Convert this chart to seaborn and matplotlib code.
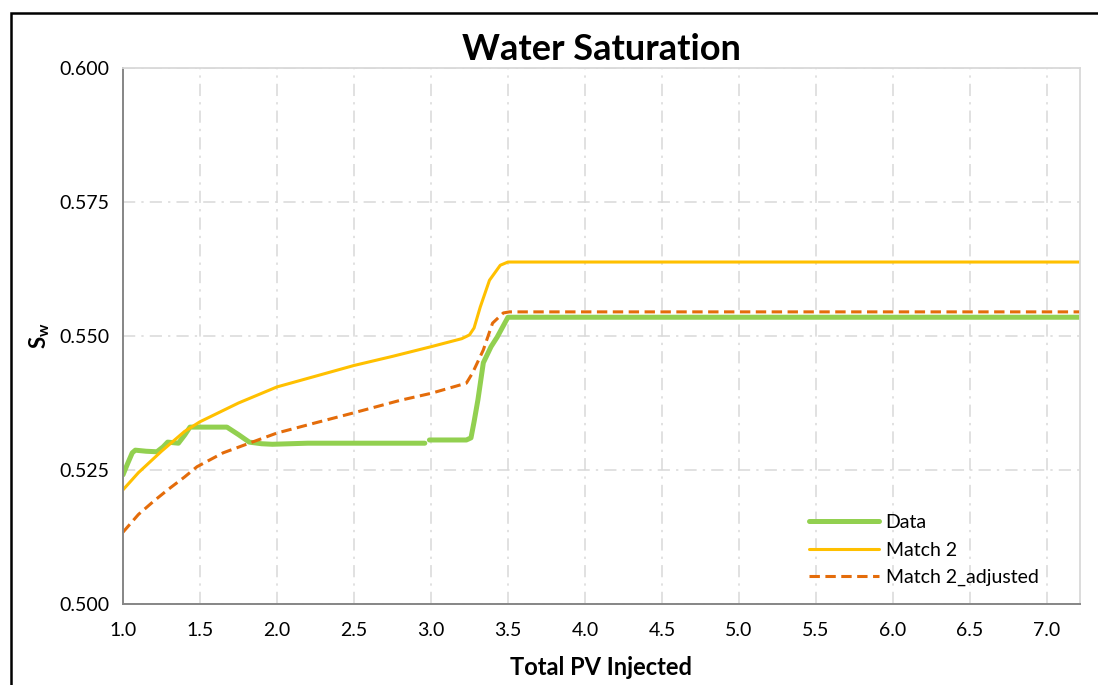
import numpy as np
import pandas as pd
import matplotlib
matplotlib.use("Agg")
import matplotlib.pyplot as plt
from matplotlib.patches import Rectangle
import seaborn as sns

# ---- data ----
data_x1 = [1.00, 1.03, 1.06, 1.08, 1.15, 1.22, 1.26, 1.29, 1.36, 1.40, 1.435, 1.55, 1.675, 1.75, 1.82, 1.90, 1.97, 2.20, 2.50, 2.80, 2.96]
data_y1 = [0.5241, 0.5262, 0.5282, 0.5287, 0.5285, 0.5284, 0.5293, 0.5302, 0.5300, 0.5315, 0.5330, 0.5330, 0.5330, 0.5316, 0.5302, 0.5299, 0.5298, 0.5300, 0.5300, 0.5300, 0.5300]
data_x2 = [2.99, 3.10, 3.23, 3.26, 3.28, 3.305, 3.34, 3.39, 3.43, 3.50, 4.0, 5.0, 6.0, 7.25]
data_y2 = [0.5306, 0.5306, 0.5306, 0.5310, 0.5340, 0.5381, 0.5450, 0.5480, 0.5498, 0.5535, 0.5535, 0.5535, 0.5535, 0.5535]

match_x = [1.00, 1.10, 1.25, 1.40, 1.50, 1.75, 2.00, 2.25, 2.50, 2.75, 3.00, 3.20, 3.25, 3.28, 3.32, 3.38, 3.45, 3.50, 4.0, 5.0, 6.0, 7.25]
match_y = [0.5213, 0.5245, 0.5285, 0.5322, 0.5340, 0.5375, 0.5405, 0.5425, 0.5445, 0.5462, 0.5480, 0.5495, 0.5502, 0.5515, 0.5554, 0.5604, 0.5632, 0.5638, 0.5638, 0.5638, 0.5638, 0.5638]

adj_x = [1.00, 1.10, 1.20, 1.29, 1.40, 1.48, 1.65, 1.82, 2.00, 2.25, 2.49, 2.80, 3.00, 3.23, 3.27, 3.34, 3.40, 3.47, 3.51, 4.0, 5.0, 6.0, 7.25]
adj_y = [0.5134, 0.5167, 0.5192, 0.5213, 0.5237, 0.5256, 0.5282, 0.5300, 0.5319, 0.5338, 0.5356, 0.5380, 0.5393, 0.5412, 0.5431, 0.5474, 0.5524, 0.5543, 0.5545, 0.5545, 0.5545, 0.5545, 0.5545]

x_ticks = [1.0, 1.5, 2.0, 2.5, 3.0, 3.5, 4.0, 4.5, 5.0, 5.5, 6.0, 6.5, 7.0]
y_ticks = [0.500, 0.525, 0.550, 0.575, 0.600]

GREEN = "#92D050"
YELLOW = "#FFC000"
ORANGE = "#E46C0A"

sns.set_theme(style="white")
plt.rcParams["font.family"] = ["Lato", "DejaVu Sans"]
plt.rcParams["text.color"] = "black"
plt.rcParams["axes.labelcolor"] = "black"

fig = plt.figure(figsize=(10.98, 6.85), dpi=100)
ax = fig.add_axes([123/1098, 1 - 604/685, (1080-123)/1098, (604-68)/685])

d1 = pd.DataFrame({"x": data_x1, "y": data_y1})
d2 = pd.DataFrame({"x": data_x2, "y": data_y2})
dm = pd.DataFrame({"x": match_x, "y": match_y})
da = pd.DataFrame({"x": adj_x, "y": adj_y})

sns.lineplot(data=d1, x="x", y="y", ax=ax, color=GREEN, lw=3.6, label="Data",
             solid_capstyle="round", solid_joinstyle="round", sort=False, estimator=None)
sns.lineplot(data=d2, x="x", y="y", ax=ax, color=GREEN, lw=3.6, label="_nolegend_",
             solid_capstyle="round", solid_joinstyle="round", sort=False, estimator=None)
sns.lineplot(data=dm, x="x", y="y", ax=ax, color=YELLOW, lw=2.2, label="Match 2",
             solid_joinstyle="round", sort=False, estimator=None)
sns.lineplot(data=da, x="x", y="y", ax=ax, color=ORANGE, lw=2.2, label="Match 2_adjusted",
             sort=False, estimator=None)
ax.lines[-1].set_linestyle((0, (3.4, 1.8)))

ax.set_xlim(1.0, 7.215)
ax.set_ylim(0.5, 0.6)
ax.set_xticks(x_ticks)
ax.set_xticklabels([f"{v:.1f}" for v in x_ticks])
ax.set_yticks(y_ticks)
ax.set_yticklabels([f"{v:.3f}" for v in y_ticks])

ax.grid(True, color="#D9D9D9", lw=1.1, linestyle=(0, (8, 4, 1.5, 4)))
ax.set_axisbelow(True)

for s in ["left", "bottom"]:
    ax.spines[s].set_color("#868686")
    ax.spines[s].set_linewidth(1.4)
for s in ["top", "right"]:
    ax.spines[s].set_color("#D9D9D9")
    ax.spines[s].set_linewidth(1.3)

ax.tick_params(axis="both", which="major", direction="out", length=5, width=1.2,
               color="#868686", labelsize=14, labelcolor="black", pad=5)
ax.tick_params(axis="x", pad=8)

ax.set_xlabel("Total PV Injected", fontsize=17, fontweight="bold", labelpad=12)
ax.set_ylabel(r"S$_\mathregular{w}$", fontsize=16, fontweight="bold", labelpad=5)
ax.set_title("Water Saturation", fontsize=26, fontweight="bold", pad=6)

leg = ax.legend(loc="lower right", bbox_to_anchor=(0.975, 0.0), frameon=False,
                fontsize=14, handlelength=3.6, labelspacing=0.55, handletextpad=0.35)

# outer chart border
fig.patches.append(Rectangle((11/1098, -0.05), 1.1, 1 - 13/685 + 0.05,
                             transform=fig.transFigure, fill=False,
                             edgecolor="black", lw=1.8, clip_on=False))

fig.savefig("out.png", dpi=100)
